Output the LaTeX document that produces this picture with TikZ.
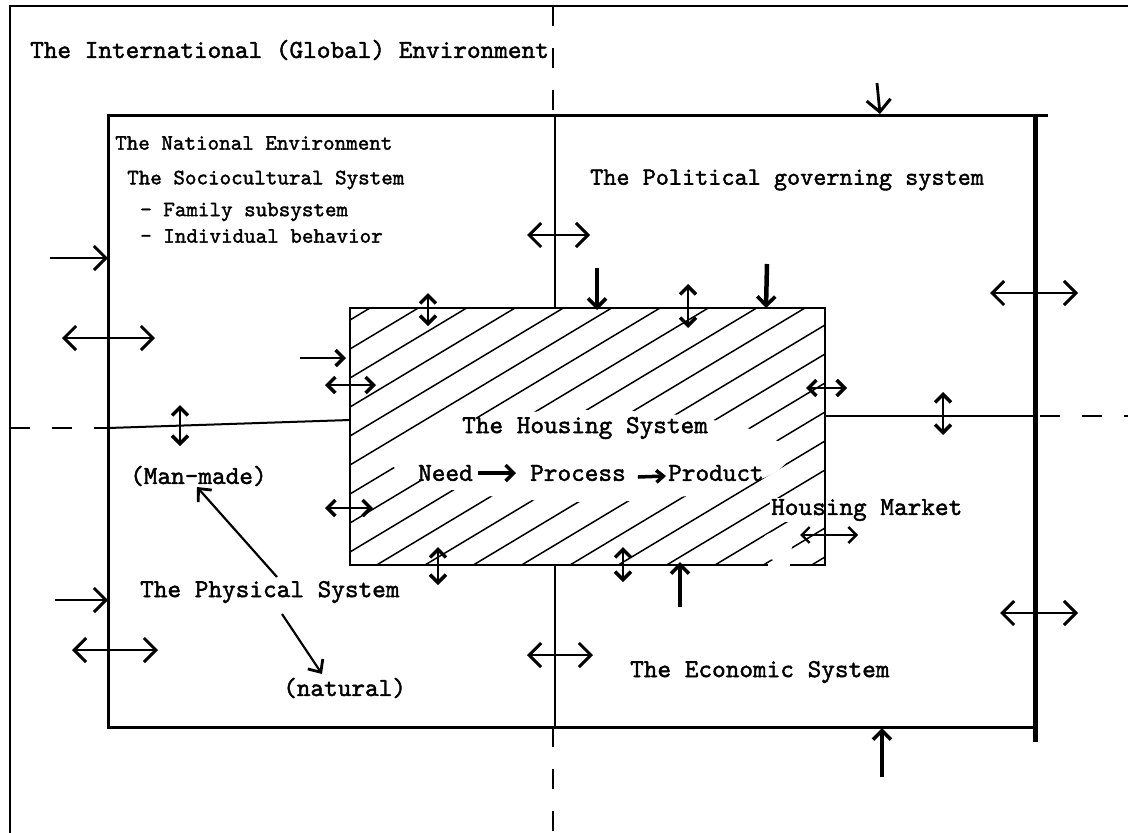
\documentclass[tikz,border=0pt]{standalone}
\usepackage{fontspec}
\newfontfamily\tw{lmmono10-regular.otf}[FakeBold=1.6]
\usetikzlibrary{arrows.meta}
\begin{document}
\begin{tikzpicture}[x=1pt,y=-1pt,
  txt/.style={font=\tw\fontsize{26}{30}\selectfont, anchor=west, inner sep=0pt},
  stxt/.style={font=\tw\fontsize{22}{26}\selectfont, anchor=west, inner sep=0pt},
  outerline/.style={line width=2.4pt},
  natline/.style={line width=3pt},
  divline/.style={line width=2.6pt},
  dashline/.style={line width=2pt, dash pattern=on 20pt off 22pt},
  hatch/.style={line width=1.5pt},
  bigarr/.style={line width=2.8pt, -{Straight Barb[length=12pt,width=24pt,line width=3pt]}},
  bigdarr/.style={line width=2.4pt, {Straight Barb[length=12pt,width=24pt,line width=3pt]}-{Straight Barb[length=12pt,width=24pt,line width=3pt]}},
  smdarr/.style={line width=2.8pt, {Straight Barb[length=8pt,width=16pt,line width=3.4pt]}-{Straight Barb[length=8pt,width=16pt,line width=3.4pt]}},
  smarr/.style={line width=2.8pt, -{Straight Barb[length=8pt,width=16pt,line width=3.4pt]}},
  thinarr/.style={line width=2.2pt, -{Straight Barb[length=10pt,width=18pt,line width=2.8pt]}},
  thinDarr/.style={line width=2pt, {Straight Barb[length=8pt,width=16pt,line width=2.4pt]}-{Straight Barb[length=8pt,width=16pt,line width=2.4pt]}},
  fatarr/.style={line width=4.5pt, -{Straight Barb[length=9pt,width=18pt,line width=3.6pt]}}
]
\useasboundingbox (0,0) rectangle (1128,833);
\fill[white] (0,0) rectangle (1128,833);

% hatching of the housing system
\begin{scope}
  \clip (350,308) rectangle (825,565);
  \foreach \c in {530,559,...,1060} \draw[hatch] (300,{\c-180}) -- (900,{\c-540});
\end{scope}
\fill[white] (588,456) ellipse [x radius=200pt, y radius=46pt];
\fill[white] (776,546) ellipse [x radius=16pt, y radius=14pt];

% outer (international) frame
\draw[outerline] (10,833) -- (10,6) -- (1128,6);
\node[txt] (intl) at (30,50) {The International (Global) Environment};

% national box
\draw[natline] (1048,115) -- (108,115) -- (108,727) -- (1035,727);
\draw[line width=5pt] (1035,115) -- (1035,742);

% dividers
\draw[divline] (555,115) -- (555,308);
\draw[divline] (555,565) -- (555,727);
\draw[dashline] (553,6) -- (553,115);
\draw[dashline] (553,727) -- (553,833);
\draw[line width=2pt] (108,428) -- (350,420);
\draw[line width=2pt] (825,416) -- (1035,416);
\draw[dashline] (10,428) -- (108,428);
\draw[dashline] (1040,416) -- (1128,416);

% housing market label (over hatch)
\node[txt, fill=white, inner sep=1pt] (market) at (770,510) {Housing Market};

% housing box
\draw[line width=2.6pt] (768,565) -- (350,565) -- (350,308) -- (825,308) -- (825,565) -- (790,565);

% texts
\node[stxt] (nat) at (115,143) {The National Environment};
\node[stxt] (socio) at (127,180) {The Sociocultural System};
\node[stxt] (fam) at (140,212) {- Family subsystem};
\node[stxt] (ind) at (140,236) {- Individual behavior};
\node[txt, font=\tw\fontsize{25}{30}\selectfont] (pol) at (590,180) {The Political governing system};
\node[txt] (hous) at (462,428) {The Housing System};
\node[txt] (need) at (418,473) {Need};
\node[txt] (proc) at (530,473) {Process};
\node[txt] (prod) at (668,473) {Product};
\node[txt] (man) at (130,476) {(Man-made)};
\node[txt] (phys) at (140,592) {The Physical System};
\node[txt] (natural) at (283,688) {(natural)};
\node[txt] (econ) at (630,672) {The Economic System};

% arrows inside housing
\draw[line width=3.5pt, -{Straight Barb[length=8pt,width=16pt,line width=3.5pt]}] (need.east) ++(5,0) -- ([xshift=-14pt]proc.west);
\draw[line width=3.5pt, -{Straight Barb[length=7pt,width=12pt,line width=3.5pt]}] ([xshift=12pt,yshift=-4pt]proc.east) -- ([xshift=-2pt,yshift=-3pt]prod.west);

% physical system arrows
\draw[thinarr] (277,577) -- (197,487);
\draw[thinarr] (282,614) -- (322,674);

% outer arrows
\draw[bigarr] (877,83) -- (880,114);
\draw[bigarr] (50,258) -- (108,258);
\draw[bigdarr] (62,338) -- (155,338);
\draw[bigarr] (55,600) -- (108,600);
\draw[bigdarr] (72,650) -- (158,650);
\draw[bigdarr] (990,293) -- (1078,293);
\draw[bigdarr] (1000,613) -- (1078,613);
\draw[bigdarr] (527,235) -- (590,235);
\draw[bigdarr] (527,655) -- (593,655);

% arrows around housing
\draw[smdarr] (428,293) -- (428,326);
\draw[fatarr] (597,268) -- (597,310);
\draw[smdarr] (688,284) -- (688,328);
\draw[fatarr] (767,264) -- (766,308);
\draw[smarr] (300,358) -- (346,358);
\draw[smdarr] (325,385) -- (376,385);
\draw[smdarr] (806,388) -- (847,388);
\draw[smdarr] (180,405) -- (180,446);
\draw[smdarr] (943,392) -- (943,435);
\draw[smdarr] (325,508) -- (373,508);
\draw[smdarr] (438,547) -- (438,585);
\draw[smdarr] (623,547) -- (623,582);
\draw[fatarr] (680,607) -- (680,562);
\draw[thinDarr] (800,535) -- (858,535);
\draw[fatarr] (882,777) -- (882,728);
\end{tikzpicture}
\end{document}
